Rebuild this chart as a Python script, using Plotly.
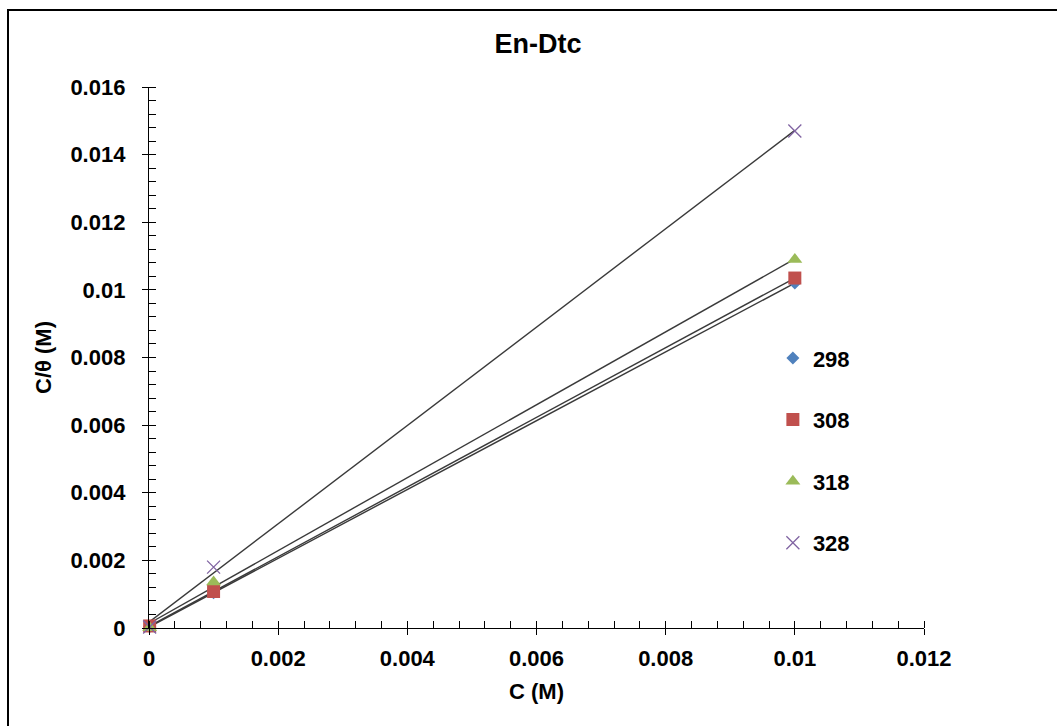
import numpy as np
import plotly.graph_objects as go

# Data
conc = [0.00001, 0.001, 0.01]
series_names = ["298", "308", "318", "328"]
y_298 = [0.00004, 0.00104, 0.0102]
y_308 = [0.00006, 0.00108, 0.01035]
y_318 = [0.00001, 0.00136, 0.0109]
y_328 = [0.00003, 0.0018, 0.0147]
all_y = [y_298, y_308, y_318, y_328]

x_ticks = [0, 0.002, 0.004, 0.006, 0.008, 0.01, 0.012]
x_tick_labels = ["0", "0.002", "0.004", "0.006", "0.008", "0.01", "0.012"]
y_ticks = [0, 0.002, 0.004, 0.006, 0.008, 0.01, 0.012, 0.014, 0.016]
y_tick_labels = ["0", "0.002", "0.004", "0.006", "0.008", "0.01", "0.012", "0.014", "0.016"]

colors = ["#4F81BD", "#C0504D", "#9BBB59", "#8064A2"]
symbols = ["diamond", "square", "triangle-up", "x-thin"]
sizes = [10, 13, 13, 13]

FONT = "Liberation Sans, Arial, sans-serif"

fig = go.Figure()

# linear trend lines (least squares fits of each series)
for ys in all_y:
    m, b = np.polyfit(conc, ys, 1)
    xs = [0, max(conc)]
    fig.add_trace(go.Scatter(
        x=xs, y=[b + m * xv for xv in xs], mode="lines",
        line=dict(color="#3a3a3a", width=1.4), showlegend=False, hoverinfo="skip"))

for i, (name, ys) in enumerate(zip(series_names, all_y)):
    mk = dict(color=colors[i], size=sizes[i], symbol=symbols[i])
    if symbols[i] == "x-thin":
        mk["line"] = dict(color=colors[i], width=1.3)
    else:
        mk["line"] = dict(width=0)
    fig.add_trace(go.Scatter(
        x=conc, y=ys, mode="markers", name=name, marker=mk,
        legendgroup=name, cliponaxis=False))

axis_common = dict(
    showgrid=False, zeroline=False, showline=True, linecolor="black", linewidth=1.3,
    ticks="outside", ticklen=6, tickcolor="black", tickwidth=1.3,
    tickfont=dict(family=FONT, size=22, color="black", weight="bold"),
)

fig.update_layout(
    width=1057, height=726,
    margin=dict(l=149, r=133, t=87, b=98),
    plot_bgcolor="white", paper_bgcolor="white",
    title=dict(text="<b>En-Dtc</b>", x=538 / 1057, xanchor="center", y=1 - 44 / 726, yanchor="middle",
               font=dict(family=FONT, size=27, color="black")),
    xaxis=dict(**axis_common, range=[0, 0.012], tickvals=x_ticks, ticktext=x_tick_labels,
               ticklabelstandoff=4,
               minor=dict(dtick=0.0004, ticks="inside", ticklen=7, tickcolor="black", tickwidth=1.3),
               title=dict(text="<b>C (M)</b>", font=dict(family=FONT, size=22, color="black"), standoff=14)),
    yaxis=dict(**axis_common, range=[0, 0.016], tickvals=y_ticks, ticktext=y_tick_labels,
               ticklabelstandoff=12,
               minor=dict(dtick=0.0004, ticks="inside", ticklen=7, tickcolor="black", tickwidth=1.3),
               title=dict(text="<b>C/θ (M)</b>", font=dict(family=FONT, size=22, color="black"), standoff=12)),
    xaxis2=dict(overlaying="x", anchor="y", side="bottom", range=[0, 0.012], tickvals=x_ticks,
                showticklabels=False, showgrid=False, zeroline=False, showline=False,
                ticks="inside", ticklen=7, tickcolor="black", tickwidth=1.3),
    yaxis2=dict(overlaying="y", anchor="x", side="left", range=[0, 0.016], tickvals=y_ticks,
                showticklabels=False, showgrid=False, zeroline=False, showline=False,
                ticks="inside", ticklen=7, tickcolor="black", tickwidth=1.3),
    legend=dict(x=0.805, y=0.5376, xanchor="left", yanchor="top", bgcolor="rgba(0,0,0,0)",
                tracegroupgap=30, itemwidth=30,
                font=dict(family=FONT, size=22, color="black", weight="bold")),
    shapes=[dict(type="rect", xref="paper", yref="paper",
                 x0=-141 / 775, x1=(1070 - 149) / 775, y0=-(760 - 628) / 541, y1=(628 - 10) / 541,
                 line=dict(color="black", width=2), fillcolor="rgba(0,0,0,0)", layer="below")],
)

# invisible traces to activate overlay axes
fig.add_trace(go.Scatter(x=[0], y=[0], xaxis="x2", yaxis="y2", mode="markers",
                         marker=dict(opacity=0), showlegend=False, hoverinfo="skip"))

fig.write_html("out.html")
